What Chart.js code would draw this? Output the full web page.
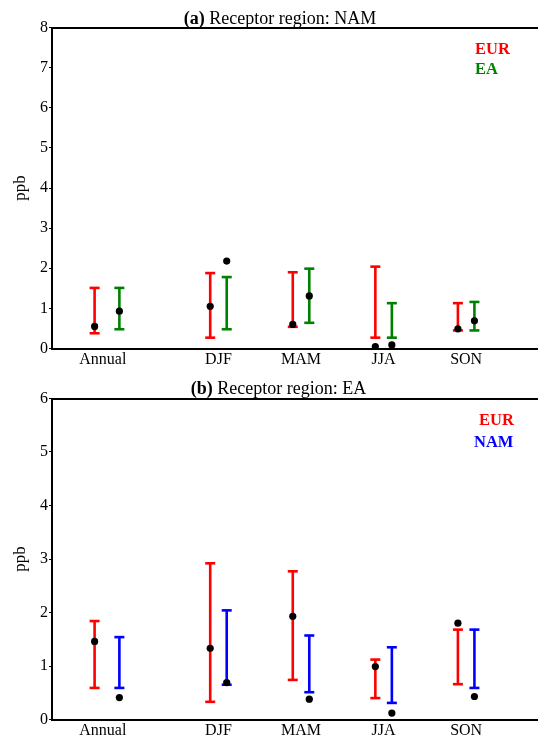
<!DOCTYPE html>
<html>
<head>
<meta charset="utf-8">
<script src="https://cdn.jsdelivr.net/npm/chart.js@4.4.1/dist/chart.umd.min.js"></script>
<style>
  html, body { margin: 0; padding: 0; background: #fff; }
  #wrap { position: relative; width: 538px; height: 741px; overflow: hidden; font-family: "Liberation Serif", "Times New Roman", serif; }
  canvas { position: absolute; left: 0; }
  .ttl { position: absolute; font-size: 18px; line-height: 22px; text-align: center; color: #000; white-space: nowrap; }
  .leg { position: absolute; font-size: 16.5px; line-height: 20px; font-weight: bold; white-space: nowrap; }
</style>
</head>
<body>
<div id="wrap">
  <canvas id="c1" width="538" height="380" style="top:0"></canvas>
  <canvas id="c2" width="538" height="361" style="top:380px"></canvas>
  <div class="ttl" style="left:0;width:560px;top:7px"><b>(a)</b> Receptor region: NAM</div>
  <div class="ttl" style="left:0;width:557px;top:377px"><b>(b)</b> Receptor region: EA</div>
  <div class="leg" style="left:475px;top:39px;color:#ff0000">EUR</div>
  <div class="leg" style="left:475px;top:59px;color:#008000">EA</div>
  <div class="leg" style="left:479px;top:410px;color:#ff0000">EUR</div>
  <div class="leg" style="left:474px;top:432px;color:#0000ff">NAM</div>
</div>
<script>
// ---- data ----
const categories = ['Annual', 'DJF', 'MAM', 'JJA', 'SON'];
const categoryPos = [0, 1.4, 2.4, 3.4, 4.4];
const offsetFirst = [-0.1, -0.1, -0.1, -0.1, -0.1];
const offsetSecond = [0.2, 0.1, 0.1, 0.1, 0.1];

// (a) receptor NAM
const nam_EUR_low  = [0.38, 0.27, 0.54, 0.27, 0.45];
const nam_EUR_high = [1.51, 1.88, 1.90, 2.04, 1.13];
const nam_EUR_dot  = [0.55, 1.05, 0.60, 0.05, 0.49];
const nam_EA_low   = [0.48, 0.48, 0.64, 0.27, 0.45];
const nam_EA_high  = [1.51, 1.78, 1.99, 1.13, 1.16];
const nam_EA_dot   = [0.93, 2.18, 1.31, 0.09, 0.69];

// (b) receptor EA
const ea_EUR_low   = [0.59, 0.33, 0.74, 0.40, 0.66];
const ea_EUR_high  = [1.84, 2.92, 2.77, 1.12, 1.68];
const ea_EUR_dot   = [1.46, 1.33, 1.93, 0.99, 1.80];
const ea_NAM_low   = [0.59, 0.65, 0.51, 0.31, 0.59];
const ea_NAM_high  = [1.54, 2.04, 1.57, 1.35, 1.68];
const ea_NAM_dot   = [0.41, 0.69, 0.38, 0.12, 0.43];

const yTicksA = [0, 1, 2, 3, 4, 5, 6, 7, 8];
const yTicksB = [0, 1, 2, 3, 4, 5, 6];

// ---- chart building ----
const FONT = "'Liberation Serif', 'Times New Roman', serif";

function errorBarData(low, high, offs) {
  const d = [];
  categories.forEach((c, i) => {
    const x = categoryPos[i] + offs[i];
    d.push({x: x, y: low[i]});
    d.push({x: x, y: high[i]});
    d.push({x: x, y: null});
  });
  return d;
}
function dotData(vals, offs) {
  return categories.map((c, i) => ({x: categoryPos[i] + offs[i], y: vals[i]}));
}
function errorDataset(low, high, offs, color) {
  return {
    type: 'scatter', showLine: true, spanGaps: false,
    data: errorBarData(low, high, offs),
    borderColor: color, borderWidth: 2.6,
    pointStyle: 'line', pointRadius: 5, pointHoverRadius: 5,
    pointBorderColor: color, pointBorderWidth: 2.6,
    clip: false, order: 2
  };
}
function dotDataset(vals, offs) {
  return {
    type: 'scatter', data: dotData(vals, offs),
    backgroundColor: '#000', borderColor: '#000', borderWidth: 0,
    pointRadius: 3.6, pointHoverRadius: 3.6, clip: false, order: 0
  };
}

function makeChart(id, s1, s2, c1, c2, yTicks, padTop, xHeight) {
  const xMin = -0.616, xMax = 5.27;
  new Chart(document.getElementById(id), {
    data: {
      datasets: [
        dotDataset(s1.dot, offsetFirst),
        dotDataset(s2.dot, offsetSecond),
        errorDataset(s1.low, s1.high, offsetFirst, c1),
        errorDataset(s2.low, s2.high, offsetSecond, c2)
      ]
    },
    options: {
      responsive: false, animation: false, events: [],
      layout: { autoPadding: false, padding: { top: padTop, left: 0, right: 0, bottom: 0 } },
      plugins: { legend: { display: false }, tooltip: { enabled: false }, title: { display: false } },
      scales: {
        x: {
          type: 'linear', position: 'bottom', min: xMin, max: xMax,
          afterBuildTicks: (sc) => { sc.ticks = categoryPos.map(v => ({value: v})); },
          afterFit: (sc) => { sc.height = xHeight; sc.paddingLeft = 0; sc.paddingRight = 0; },
          ticks: { color: '#000', font: { family: FONT, size: 16 }, padding: 2, maxRotation: 0, autoSkip: false,
                   callback: (v, i) => categories[i] },
          grid: { display: false, drawTicks: false },
          border: { display: true, color: '#000', width: 2 }
        },
        xTop: {
          type: 'linear', position: 'top', min: xMin, max: xMax,
          afterFit: (sc) => { sc.height = 0; sc.paddingLeft = 0; sc.paddingRight = 0; },
          ticks: { display: false },
          grid: { display: false, drawTicks: false },
          border: { display: true, color: '#000', width: 2 }
        },
        y: {
          type: 'linear', position: 'left', min: yTicks[0], max: yTicks[yTicks.length - 1],
          afterBuildTicks: (sc) => { sc.ticks = yTicks.map(v => ({value: v})); },
          afterFit: (sc) => { sc.width = 52; },
          ticks: { color: '#000', font: { family: FONT, size: 16 }, padding: 1 },
          grid: { display: true, drawOnChartArea: false, drawTicks: true, tickLength: 3, color: '#000', tickColor: '#000', tickWidth: 1 },
          border: { display: true, color: '#000', width: 2 },
          title: { display: true, text: 'ppb', color: '#000', font: { family: FONT, size: 17 }, padding: { top: 10, bottom: 0 } }
        }
      }
    }
  });
}

makeChart('c1',
  { low: nam_EUR_low, high: nam_EUR_high, dot: nam_EUR_dot },
  { low: nam_EA_low, high: nam_EA_high, dot: nam_EA_dot },
  '#ff0000', '#008000', yTicksA, 27.5, 31.5);

makeChart('c2',
  { low: ea_EUR_low, high: ea_EUR_high, dot: ea_EUR_dot },
  { low: ea_NAM_low, high: ea_NAM_high, dot: ea_NAM_dot },
  '#ff0000', '#0000ff', yTicksB, 18.5, 21.5);
</script>
</body>
</html>
